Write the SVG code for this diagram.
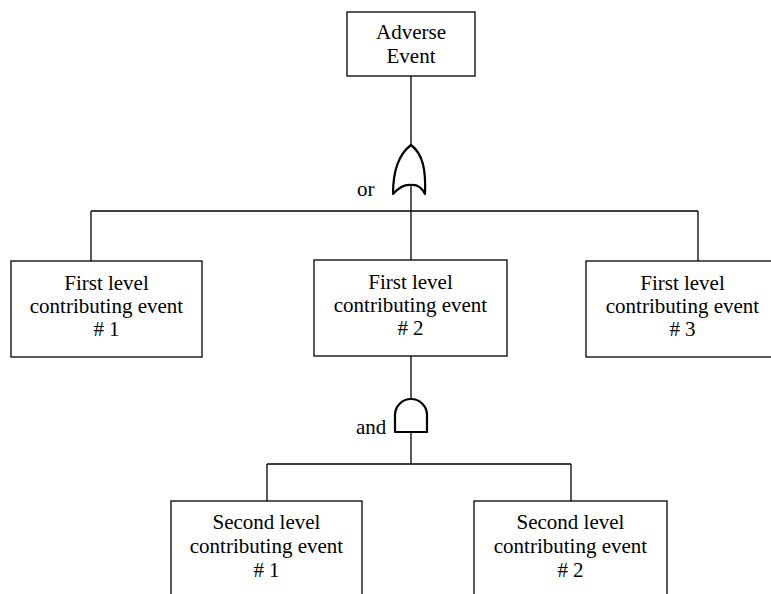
<svg xmlns="http://www.w3.org/2000/svg" width="771" height="594" viewBox="0 0 771 594">
<style>
.box{fill:#fff;stroke:#000;stroke-width:1.3}
.ln{fill:none;stroke:#000;stroke-width:1.3}
.gate{fill:#fff;stroke:#000;stroke-width:2.2;stroke-linejoin:round}
text{font-family:"Liberation Serif","Times New Roman",serif;font-size:21px;fill:#000;text-anchor:middle}
.lbl{text-anchor:start}
</style>
<rect width="771" height="594" fill="#fff"/>
<g id="connectors">
<line class="ln" x1="411" y1="76" x2="411" y2="146"/>
<line class="ln" x1="411" y1="186" x2="411" y2="211"/>
<line class="ln" x1="91" y1="211" x2="698" y2="211"/>
<line class="ln" x1="91" y1="211" x2="91" y2="261"/>
<line class="ln" x1="411" y1="211" x2="411" y2="260"/>
<line class="ln" x1="698" y1="211" x2="698" y2="261"/>
<line class="ln" x1="411" y1="356" x2="411" y2="399"/>
<line class="ln" x1="411" y1="432" x2="411" y2="464"/>
<line class="ln" x1="267" y1="464" x2="571" y2="464"/>
<line class="ln" x1="267" y1="464" x2="267" y2="501"/>
<line class="ln" x1="571" y1="464" x2="571" y2="501"/>
</g>
<g id="or-gate">
<path class="gate" d="M411,145 C399,154 393,170 393,194 Q402,184 411,185 Q420,184 425,194 C426,170 423,154 411,145 Z"/>
<text class="lbl" x="357" y="196">or</text>
</g>
<g id="and-gate">
<path class="gate" d="M395,432 L395,415 A16,16 0 0 1 427,415 L427,432 Z"/>
<text class="lbl" x="356" y="434">and</text>
</g>
<g id="adverse-event">
<rect class="box" x="347" y="12" width="128" height="64"/>
<text x="411" y="39">Adverse</text>
<text x="411" y="63">Event</text>
</g>
<g id="first-1">
<rect class="box" x="11" y="261" width="191" height="96"/>
<text x="106.5" y="290">First level</text>
<text x="106.5" y="313">contributing event</text>
<text x="106.5" y="336">#<tspan dx="5">1</tspan></text>
</g>
<g id="first-2">
<rect class="box" x="314" y="260" width="193" height="96"/>
<text x="410.5" y="289">First level</text>
<text x="410.5" y="312">contributing event</text>
<text x="410.5" y="335">#<tspan dx="5">2</tspan></text>
</g>
<g id="first-3">
<rect class="box" x="586" y="261" width="193" height="96"/>
<text x="682.5" y="290">First level</text>
<text x="682.5" y="313">contributing event</text>
<text x="682.5" y="336">#<tspan dx="5">3</tspan></text>
</g>
<g id="second-1">
<rect class="box" x="171" y="501" width="191" height="110"/>
<text x="266.5" y="529">Second level</text>
<text x="266.5" y="553">contributing event</text>
<text x="266.5" y="577">#<tspan dx="5">1</tspan></text>
</g>
<g id="second-2">
<rect class="box" x="474" y="501" width="193" height="110"/>
<text x="570.5" y="529">Second level</text>
<text x="570.5" y="553">contributing event</text>
<text x="570.5" y="577">#<tspan dx="5">2</tspan></text>
</g>
</svg>
